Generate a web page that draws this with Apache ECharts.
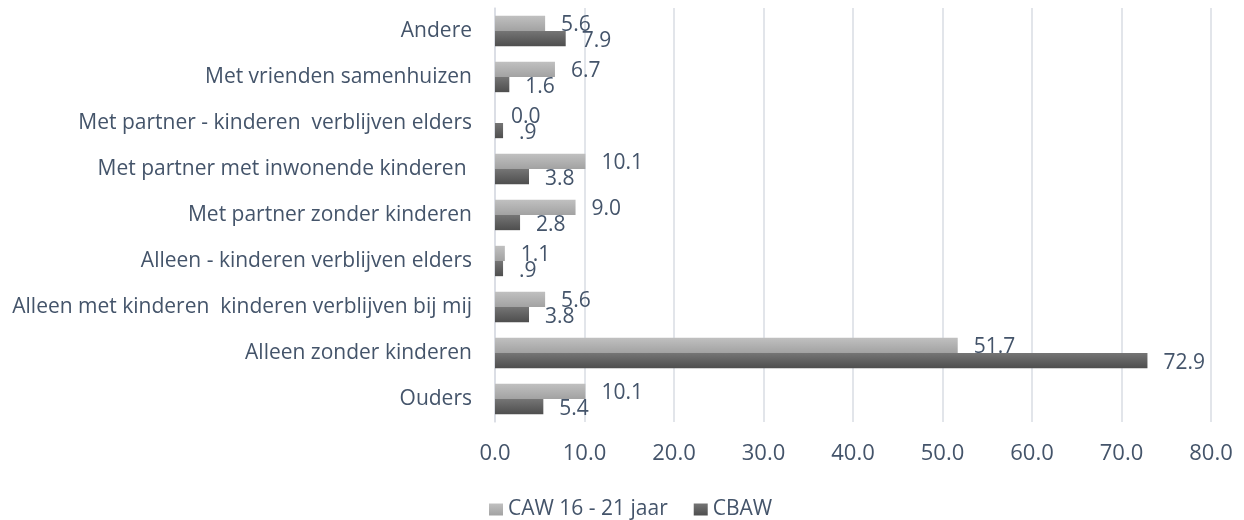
<!DOCTYPE html>
<html>
<head>
<meta charset="utf-8">
<script src="https://cdn.jsdelivr.net/npm/echarts@6/dist/echarts.min.js"></script>
<style>
html, body { margin: 0; padding: 0; background: #fff; }
#chart { width: 1244px; height: 520px; }
</style>
</head>
<body>
<div id="chart"></div>
<script>
// categorieen, van onder naar boven
var categories = [
	'Ouders',
	'Alleen zonder kinderen',
	'Alleen met kinderen  kinderen verblijven bij mij',
	'Alleen - kinderen verblijven elders',
	'Met partner zonder kinderen',
	'Met partner met inwonende kinderen ',
	'Met partner - kinderen  verblijven elders',
	'Met vrienden samenhuizen',
	'Andere'
];
var cawValues = [10.1, 51.7, 5.6, 1.1, 9.0, 10.1, 0.0, 6.7, 5.6];
var cbawValues = [5.4, 72.9, 3.8, 0.9, 2.8, 3.8, 0.9, 1.6, 7.9];
var seriesNames = ['CAW 16 - 21 jaar', 'CBAW'];

var textColor = '#44546a',
	gridColor = '#d9dce3',
	fontFamily = '"Open Sans", "Noto Sans", sans-serif';

var grad = function(top, bottom) {
	return new echarts.graphic.LinearGradient(0, 0, 0, 1, [
		{ offset: 0, color: top },
		{ offset: 1, color: bottom }
	]);
};

var labelOpt = function(formatter) {
	return {
		show: true,
		position: 'right',
		distance: 16,
		offset: [0, 2],
		color: textColor,
		fontFamily: fontFamily,
		fontSize: 21,
		formatter: formatter
	};
};

var chart = echarts.init(document.getElementById('chart'));
chart.setOption({
	animation: false,
	textStyle: { fontFamily: fontFamily },
	grid: { left: 495, right: 33, top: 8, bottom: 98 },
	legend: {
		data: seriesNames,
		top: 494,
		left: 484,
		icon: 'rect',
		itemWidth: 14,
		itemHeight: 12,
		itemGap: 26,
		itemStyle: { borderWidth: 0 },
		textStyle: { color: textColor, fontSize: 21, fontFamily: fontFamily }
	},
	xAxis: {
		type: 'value',
		min: 0,
		max: 80,
		interval: 10,
		axisLine: { show: false },
		axisTick: { show: false },
		splitLine: { lineStyle: { color: gridColor, width: 1.5 } },
		axisLabel: {
			color: textColor,
			fontSize: 22,
			margin: 21,
			formatter: function(v) { return v.toFixed(1); }
		}
	},
	yAxis: {
		type: 'category',
		data: categories,
		axisLine: { show: true, lineStyle: { color: gridColor, width: 1.5 } },
		axisTick: { show: false },
		axisLabel: { color: textColor, fontSize: 21, margin: 23 }
	},
	series: [{
		name: seriesNames[0],
		type: 'bar',
		data: cawValues,
		barGap: '0%',
		barCategoryGap: '34%',
		itemStyle: { color: grad('#c0c0c0', '#a2a2a2') },
		label: labelOpt(function(p) { return p.value.toFixed(1); })
	}, {
		name: seriesNames[1],
		type: 'bar',
		data: cbawValues,
		barGap: '0%',
		barCategoryGap: '34%',
		itemStyle: { color: grad('#757575', '#4e4e4e') },
		// zonder voorloopnul, zoals in het origineel (.9)
		label: labelOpt(function(p) { return p.value.toFixed(1).replace(/^0\./, '.'); })
	}]
});
</script>
</body>
</html>
